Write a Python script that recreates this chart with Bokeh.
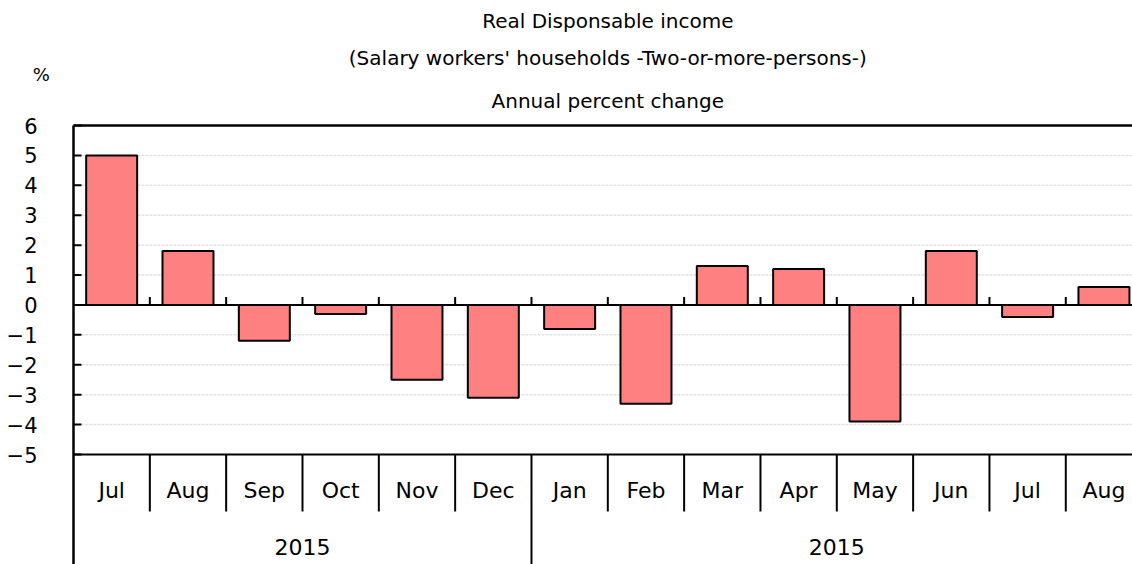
from bokeh.plotting import figure
from bokeh.models import Range1d, ColumnDataSource
from bokeh.core.properties import value
from bokeh.embed import file_html
from bokeh.resources import INLINE

# ---- data ----
months = ["Jul", "Aug", "Sep", "Oct", "Nov", "Dec", "Jan", "Feb", "Mar", "Apr", "May", "Jun", "Jul", "Aug"]
values = [5.0, 1.8, -1.2, -0.3, -2.5, -3.1, -0.8, -3.3, 1.3, 1.2, -3.9, 1.8, -0.4, 0.6]
years = ["2015", "2015"]
year_spans = [6, 8]  # number of months in each year group
y_ticks = [-5, -4, -3, -2, -1, 0, 1, 2, 3, 4, 5, 6]
title_lines = ["Real Disponsable income",
               "(Salary workers' households -Two-or-more-persons-)",
               "Annual percent change"]
unit_label = "%"

FONT = "DejaVu Sans"
n = len(months)
W, H = 1132, 564
PX_PER_UNIT = 329 / 11.0      # vertical pixels per percent
CAT_PX = 76.33                # horizontal pixels per category
FRAME_LEFT = 73               # page x of the category axis origin
TEXT_SHIFT = 8                # empirical baseline correction (px)

def ypx(py):
    """page pixel row -> y data value"""
    return 6 + (125 - py) / PX_PER_UNIT

def xpx(px):
    return (px - FRAME_LEFT) / CAT_PX

Y_TOP = ypx(0)
Y_BOT = ypx(H)
X_START = xpx(0)
X_END = xpx(W)

p = figure(width=W, height=H, output_backend="svg", toolbar_location=None,
           x_range=Range1d(X_START, X_END), y_range=Range1d(Y_BOT, Y_TOP),
           min_border_left=0, min_border_right=0, min_border_top=0, min_border_bottom=0)
p.outline_line_color = None
p.xaxis.visible = False
p.yaxis.visible = False
p.grid.visible = False

# dotted grid lines
gt = [t for t in y_ticks if t not in (-5, 0, 6)]
p.segment(x0=[0] * len(gt), y0=gt, x1=[X_END] * len(gt), y1=gt,
          line_color="#e2e2e2", line_width=1.5, line_dash="3 1")

# bars
xs = [i + 0.5 for i in range(n)]
src = ColumnDataSource(dict(x=xs, top=values, month=months))
p.vbar(x="x", top="top", bottom=0, width=0.668, source=src,
       fill_color="#FF8080", line_color="black", line_width=2)

# horizontal black lines: top border, zero, bottom
p.segment(x0=[0, 0, 0], y0=[6, 0, -5], x1=[X_END] * 3, y1=[6, 0, -5],
          line_color="black", line_width=[2.5, 2, 2])

# left axis line down to bottom
p.segment(x0=[0], y0=[6], x1=[0], y1=[Y_BOT], line_color="black", line_width=2.5)

# y ticks (inward) and labels
p.segment(x0=[0] * len(y_ticks), y0=y_ticks, x1=[8 / CAT_PX] * len(y_ticks), y1=y_ticks,
          line_color="black", line_width=2)
tick_labels = [str(t) if t >= 0 else "\u2212" + str(-t) for t in y_ticks]
p.text(x=[xpx(37)] * len(y_ticks), y=y_ticks, text=tick_labels, text_font=value(FONT),
       text_font_size="21px", text_align="right", text_baseline="middle", text_color="black")

# small boundary ticks above zero line
bx = list(range(1, n))
p.segment(x0=bx, y0=[0] * len(bx), x1=bx, y1=[8 / PX_PER_UNIT] * len(bx),
          line_color="black", line_width=2)

# month / year separators
year_bounds = []
acc = 0
for s in year_spans:
    acc += s
    year_bounds.append(acc)
month_sep = [b for b in range(1, n + 1) if b not in year_bounds]
p.segment(x0=month_sep, y0=[-5] * len(month_sep), x1=month_sep,
          y1=[ypx(511)] * len(month_sep), line_color="black", line_width=2)
ysep = year_bounds[:-1]
p.segment(x0=ysep, y0=[-5] * len(ysep), x1=ysep, y1=[Y_BOT] * len(ysep),
          line_color="black", line_width=2)

# month labels
p.text(x=xs, y=[ypx(498 - TEXT_SHIFT)] * n, text=months, text_font=value(FONT),
       text_font_size="22px", text_align="center", text_baseline="alphabetic",
       text_color="black")

# year labels
ycent = []
start = 0
for s in year_spans:
    ycent.append(start + s / 2)
    start += s
p.text(x=ycent, y=[ypx(554 - TEXT_SHIFT)] * len(years), text=years, text_font=value(FONT),
       text_font_size="22px", text_align="center", text_baseline="alphabetic",
       text_color="black")

# title lines
title_base_px = [28.5, 65, 108]
p.text(x=[n / 2] * 3, y=[ypx(py - TEXT_SHIFT) for py in title_base_px], text=title_lines,
       text_font=value(FONT), text_font_size="20px", text_align="center",
       text_baseline="alphabetic", text_color="black")

# unit label
p.text(x=[xpx(40.7)], y=[ypx(81.5 - TEXT_SHIFT)], text=[unit_label], text_font=value(FONT),
       text_font_size="18px", text_align="center", text_baseline="alphabetic",
       text_color="black")

open("out.html", "w").write(file_html(p, INLINE))
